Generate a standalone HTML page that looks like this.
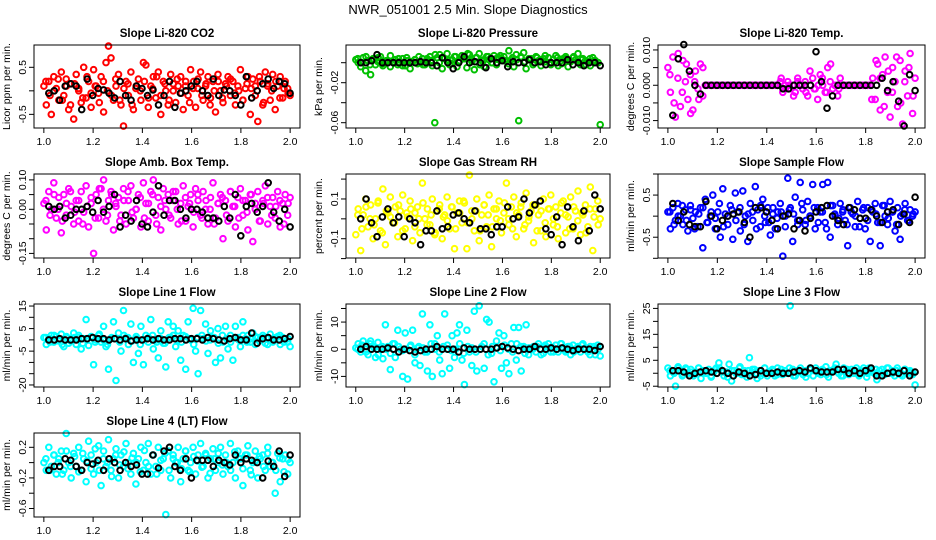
<!DOCTYPE html>
<html><head><meta charset="utf-8"><style>
html,body{margin:0;padding:0;background:#fff}
svg{display:block;font-family:"Liberation Sans",Arial,sans-serif}
</style></head><body>
<svg id="chart" width="936" height="540" viewBox="0 0 936 540" xmlns="http://www.w3.org/2000/svg">
<text x="468" y="14" text-anchor="middle" font-size="13">NWR_051001  2.5 Min. Slope Diagnostics</text>
</svg>
<script>
const xTicks=[1.0,1.2,1.4,1.6,1.8,2.0];
const xTickLabels=["1.0","1.2","1.4","1.6","1.8","2.0"];
const titles=["Slope Li-820 CO2","Slope Li-820 Pressure","Slope Li-820 Temp.","Slope Amb. Box Temp.","Slope Gas Stream RH","Slope Sample Flow","Slope Line 1 Flow","Slope Line 2 Flow","Slope Line 3 Flow","Slope Line 4 (LT) Flow"];
const yLabels=["Licor ppm per min.","kPa per min.","degrees C per min.","degrees C per min.","percent per min.","ml/min per min.","ml/min per min.","ml/min per min.","ml/min per min.","ml/min per min."];
const colors=["#ff0000","#00c000","#ff00ff","#ff00ff","#ffff00","#0000ff","#00ffff","#00ffff","#00ffff","#00ffff"];
const yDomains=[[-0.79,0.974],[-0.0653,0.0177],[-0.0121,0.0114],[-0.1656,0.12],[-0.197,0.2256],[-0.993,1.0],[-20.9,15.9],[-13.9,16.65],[-5.3,26.7],[-0.711,0.387]];
const yTicks=[[-0.5,0,0.5],[0,-0.02,-0.04,-0.06],[-0.01,-0.005,0,0.005,0.01],[-0.15,-0.1,-0.05,0,0.05,0.1],[-0.2,-0.1,0,0.1,0.2],[-1,-0.5,0,0.5,1],[-20,-15,-10,-5,0,5,10,15],[-10,-5,0,5,10,15],[-5,0,5,10,15,20,25],[-0.6,-0.4,-0.2,0,0.2]];
const yTickLabels=[{"-0.5":"-0.5","0.5":"0.5"},{"-0.02":"-0.02","-0.06":"-0.06"},{"-0.01":"-0.010","0":"0.000","0.01":"0.010"},{"-0.15":"-0.15","0":"0.00","0.1":"0.10"},{"-0.1":"-0.1","0.1":"0.1"},{"-0.5":"-0.5","0.5":"0.5"},{"-20":"-20","-5":"-5","5":"5","15":"15"},{"-10":"-10","0":"0","10":"10"},{"-5":"-5","5":"5","15":"15","25":"25"},{"-0.6":"-0.6","-0.2":"-0.2","0.2":"0.2"}];

const co2=[0.1,-0.3,0.2,-0.5,0.3,0.05,-0.2,0.4,-0.1,0.25,-0.4,0.15,-0.6,0.35,0.0,-0.25,0.5,-0.15,0.2,-0.35,0.45,0.1,-0.05,0.3,-0.45,0.6,0.95,0.7,-0.2,0.1,0.35,-0.3,-0.75,0.2,-0.1,0.4,-0.4,0.05,0.25,-0.2,0.6,0.55,-0.35,0.1,0.3,-0.15,0.4,-0.5,0.2,0.0,-0.3,0.35,0.15,-0.25,0.1,0.3,-0.4,0.2,-0.1,0.45,0.05,-0.35,0.25,0.4,-0.2,0.1,0.3,-0.15,0.2,-0.45,0.35,0.0,-0.25,0.15,0.3,-0.1,0.2,-0.3,0.1,0.45,-0.2,0.05,0.3,-0.5,0.25,0.1,-0.65,0.2,-0.3,0.4,0.15,-0.2,0.35,-0.4,0.1,0.3,-0.15,0.2,0.05,-0.1];
const co2B=[0.2,-0.1,0.0,0.25,-0.2,0.1,-0.3,0.15,0.05,-0.15,0.3,-0.05,0.1,-0.25,0.2,0.0,-0.1,0.25,-0.2,0.05,0.15,-0.3,0.1,0.0,0.2,-0.15,0.05,0.3,-0.1,0.15,-0.2,0.0,0.25,-0.05,0.1,-0.25,0.2,0.05,-0.1,0.15,-0.3,0.0,0.2,-0.15,0.1,0.25,-0.05,0.0,-0.2,0.15,0.05,-0.1,0.3,-0.25,0.1,0.0,0.2,-0.15,0.05,-0.05];
const co2Ref=[-0.05,0.0,-0.2,0.1,0.15,0.1,-0.4,0.25,-0.1,0.05,0.02,-0.05,-0.15,0.2,-0.1,-0.2,0.1,0.05,-0.1,0.02,-0.3,-0.1,0.2,-0.35,-0.05,0.0,0.1,0.2,0.0,-0.1,0.25,-0.1,0.02,0.0,-0.1,-0.3,0.3,-0.15,0.0,0.15,0.25,0.05,0.2,0.15,-0.05];
const pres=[0.003,0.0,-0.004,0.005,-0.008,0.002,-0.012,0.004,-0.002,0.001,0.006,-0.003,0.0,0.002,-0.004,0.001,0.003,-0.002,0.0,0.004,-0.003,0.002,-0.006,0.001,0.003,-0.001,0.0,0.004,-0.002,0.002,0.006,-0.003,-0.06,0.005,0.008,-0.006,0.004,0.009,-0.002,0.003,0.006,-0.004,0.002,0.007,0.004,-0.005,0.008,0.003,-0.007,0.005,0.009,0.002,-0.004,0.006,0.003,0.0,0.007,-0.002,0.005,0.004,0.006,0.002,0.012,0.003,-0.004,0.008,-0.058,0.005,0.01,-0.006,0.003,0.004,0.0,0.006,0.002,-0.003,0.004,0.001,0.005,-0.002,0.003,0.007,-0.003,0.002,0.004,0.006,-0.004,0.001,0.005,0.003,0.009,-0.002,0.004,0.002,0.001,-0.003,0.005,0.002,0.0,-0.062];
const presB=[0.004,0.0,0.006,-0.002,0.003,0.005,-0.001,0.002,0.007,0.0,0.004,-0.003,0.005,0.001,0.003,0.006,-0.002,0.004,0.002,0.008,0.0,0.005,0.003,-0.001,0.006,0.002,0.004,0.009,0.001,0.005,-0.002,0.003,0.006,0.0,0.004,0.007,0.002,-0.001,0.005,0.003,0.006,0.001,0.004,-0.002,0.005,0.002,0.007,0.0,0.003,0.005,-0.001,0.004,0.002,0.006,0.001,0.003,-0.002,0.004,0.002,0.0];
const presRef=[0.0,0.0,0.002,0.008,0.0,0.0,0.0,0.0,0.0,0.0,0.0,0.001,0.0,0.0,-0.003,0.005,0.0,-0.006,0.0,0.006,0.0,0.001,0.0,-0.005,0.004,0.0,0.002,-0.004,0.001,0.0,0.0,0.003,0.0,0.001,-0.002,0.0,0.0,0.0,0.003,-0.002,0.0,-0.003,0.0,0.0,-0.003];
const temp=[0.005,-0.002,0.008,-0.009,0.002,-0.006,0.007,0.001,-0.004,0.003,-0.007,0.004,-0.001,0.006,-0.003,0,0,0,0,0,0,0,0,0,0,0,0,0,0,0,0,0,0,0,0,0,0,0,0,0,0,0,0,0,0,0.001,-0.002,0.0,0.001,-0.001,0.0,-0.002,0.002,0.0,-0.001,0.001,-0.003,0.0,0.002,-0.001,-0.004,0.003,0.0,-0.002,0.005,0.001,-0.001,0.0,-0.003,0.002,0.0,0,0,0,0,0,0,0,0,0,0,0,0.002,-0.004,0.006,-0.007,0.003,0.008,-0.002,-0.009,0.005,0.001,-0.006,0.007,-0.011,0.004,-0.003,0.009,-0.008,0.002];
const tempB=[0.003,-0.005,0.009,-0.002,0.006,-0.008,0.001,-0.004,0.005,0,0,0,0,0,0,0,0,0,0,0,0,0,0,0,0,0,0,0.002,-0.001,0.0,-0.003,0.001,0.0,-0.002,0.004,-0.001,0.0,0.002,-0.002,0.006,0.0,-0.001,0,0,0,0,0,0,0,-0.004,0.007,0.002,-0.006,0.004,-0.002,0.008,-0.005,0.001,0.005,-0.003];
const tempRef=[-0.0085,0.0075,0.0115,0.004,0.0,-0.0025,0,0,0,0,0,0,0,0,0,0,0,0,0,0,-0.001,-0.001,0,0,0,0,0.0095,0.001,-0.0065,-0.003,0,0,0,0,0,0,0,0,0.002,-0.0015,0.001,-0.0045,-0.0115,0.003,-0.0015];
const amb=[0.02,-0.07,0.06,0.0,0.09,-0.03,0.04,-0.08,0.05,-0.02,0.07,0.01,-0.05,0.03,-0.04,0.06,-0.01,0.08,-0.06,0.02,-0.15,0.05,-0.03,0.07,0.1,-0.04,0.03,0.06,-0.07,0.01,0.04,-0.02,0.07,-0.05,0.03,0.08,-0.03,0.0,0.05,-0.06,0.09,0.02,-0.04,0.06,0.1,-0.02,0.04,-0.07,0.07,0.0,0.05,-0.03,0.03,0.06,-0.05,0.02,0.08,-0.04,0.01,0.05,-0.06,0.07,0.03,-0.02,0.06,0.0,-0.05,0.04,0.09,-0.03,0.02,0.05,-0.1,0.03,-0.04,0.06,0.01,-0.06,0.04,0.07,-0.02,0.03,-0.07,0.05,-0.11,0.02,0.06,-0.04,0.03,0.08,-0.05,0.01,0.04,-0.03,0.06,-0.06,0.02,0.05,-0.02,0.04];
const ambB=[0.03,-0.02,0.05,0.0,-0.04,0.02,0.06,-0.01,0.03,-0.05,0.01,0.04,-0.03,0.07,0.0,-0.02,0.05,0.02,-0.04,0.03,0.06,-0.01,0.0,0.04,-0.03,0.02,0.05,-0.05,0.01,0.03,-0.02,0.06,0.0,-0.04,0.04,0.02,-0.01,0.05,-0.03,0.03,0.0,-0.05,0.02,0.04,-0.02,0.06,0.01,-0.03,0.03,-0.01,0.05,0.0,-0.04,0.02,0.04,-0.02,0.01,0.03,-0.05,0.02];
const ambRef=[0.01,0.0,0.01,-0.03,-0.02,0.0,0.0,0.01,-0.01,0.03,-0.01,0.01,0.05,-0.06,-0.02,-0.04,0.03,-0.05,-0.06,-0.01,0.08,-0.02,0.03,0.03,0.0,-0.03,0.0,0.0,-0.01,-0.03,-0.03,-0.04,0.01,-0.03,0.05,-0.09,0.01,0.02,-0.01,0.01,0.09,-0.01,-0.04,0.0,-0.06];
const rh=[-0.08,0.05,-0.16,0.02,0.1,-0.04,0.07,-0.1,0.0,0.08,-0.06,0.15,-0.13,0.03,0.11,-0.02,0.06,-0.09,0.04,0.12,-0.05,0.01,0.09,-0.11,0.03,0.06,-0.07,0.18,0.0,0.05,-0.03,0.1,-0.08,0.04,0.07,-0.1,0.02,0.11,-0.05,0.06,-0.15,0.03,0.09,-0.02,0.08,-0.15,0.22,0.04,-0.06,0.1,-0.11,0.02,0.07,-0.04,0.12,-0.14,0.05,0.0,0.09,-0.07,0.03,0.18,-0.03,0.06,0.11,-0.09,0.02,0.08,-0.05,0.13,-0.01,0.04,-0.12,0.07,0.02,-0.06,0.1,-0.09,0.05,0.12,-0.03,0.06,-0.1,0.03,0.09,-0.07,0.01,0.11,-0.05,0.04,0.14,-0.08,0.02,0.07,-0.04,0.16,-0.16,0.05,0.09,0.0];
const rhB=[0.02,-0.05,0.06,0.0,-0.03,0.09,-0.07,0.04,0.01,-0.02,0.07,-0.06,0.03,0.05,-0.04,0.0,0.08,-0.03,0.02,-0.07,0.05,0.01,-0.01,0.06,-0.05,0.03,0.09,-0.02,0.0,0.04,-0.06,0.07,0.02,-0.04,0.05,-0.01,0.08,0.0,-0.05,0.03,0.06,-0.03,0.01,0.07,-0.06,0.04,-0.02,0.05,0.0,-0.04,0.08,0.02,-0.05,0.06,-0.01,0.03,-0.07,0.05,0.01,-0.03];
const rhRef=[0.0,0.1,-0.02,-0.09,0.01,0.05,-0.02,0.01,-0.09,0.0,-0.02,-0.13,-0.06,-0.06,0.04,-0.05,-0.04,0.02,0.03,0.0,-0.02,0.04,-0.05,-0.05,-0.08,-0.04,-0.04,0.06,0.0,0.01,0.1,0.03,0.07,0.09,-0.05,-0.08,0.01,-0.13,0.06,-0.04,-0.11,0.04,-0.06,0.12,0.05];
const samp=[0.1,-0.3,0.2,-0.1,0.3,0.0,-0.2,0.15,-0.35,0.25,-0.05,0.1,-0.25,0.2,-0.75,0.4,-0.15,0.0,0.5,-0.3,0.1,-0.5,0.65,0.05,-0.2,0.25,-0.55,0.55,0.1,-0.35,0.6,0.0,-0.6,0.3,-0.1,0.7,0.15,-0.25,0.4,-0.15,0.2,-0.45,0.05,-0.3,0.1,0.3,-0.95,0.0,0.9,0.2,-0.6,0.45,-0.1,0.8,0.15,-0.2,0.35,0.0,0.75,-0.3,0.2,0.1,0.75,-0.15,0.8,-0.5,0.25,0.0,-0.2,0.3,0.1,-0.1,-0.7,0.2,0.05,-0.25,0.35,-0.05,0.15,-0.3,0.2,-0.6,0.1,0.3,-0.15,-0.7,0.25,0.0,-0.2,0.35,0.1,-0.35,0.2,-0.55,0.05,0.3,-0.1,0.15,0.0,0.1];
const sampB=[0.1,-0.2,0.0,0.25,-0.1,0.15,-0.3,0.05,0.2,-0.15,0.1,-0.05,0.3,-0.25,0.0,0.15,-0.1,0.2,-0.2,0.05,0.1,-0.3,0.25,0.0,-0.15,0.2,-0.05,0.1,-0.25,0.15,0.05,-0.2,0.3,-0.1,0.0,0.2,-0.15,0.1,-0.3,0.25,0.05,-0.05,0.15,-0.2,0.1,0.0,-0.25,0.2,-0.1,0.15,0.05,-0.15,0.25,-0.05,0.1,-0.2,0.0,0.15,-0.1,0.05];
const sampRef=[0.3,-0.1,0.1,-0.2,-0.25,-0.25,0.35,0.0,-0.3,-0.1,0.0,0.05,0.1,-0.15,-0.5,0.2,0.2,0.1,-0.1,-0.3,0.0,0.05,-0.3,-0.1,-0.35,-0.05,0.1,0.2,0.25,0.0,-0.1,-0.2,0.2,0.15,-0.05,-0.05,0.15,0.0,-0.15,0.1,0.15,-0.2,0.05,-0.15,0.45];
const line1=[1,-2,0.5,2,-1,1.5,-0.5,2.5,-3,1,-1.5,0.5,3,-2,1,-4,0.5,9,-2.5,1.5,-11,0,2,-1,6,-3,-13,0.5,8,-18,3,-5,13,1,-2,7,-10,0.5,-6,6,-11,2,-1,9,-4,0,-8,4,-1.5,-12,8,1,6,-3,4,-9,2,-13,8,0,14,-5,-15,13,0.5,7,-6,4,1,-10,5,-8,-1,6,-4,2,-9,6,1,-3,8,0.5,2,-1,3,-2,1,0.5,2,-1.5,1,2.5,-1,0.5,1.5,-2,1,0.5,-1,-3];
const line1B=[1,-1,2,0,-2,1.5,-0.5,1,2,-1.5,0.5,1,-1,2.5,0,-2,1,0.5,-1,2,1,-0.5,1.5,-2,0,1,2,-1,0.5,-1.5,1,2,0,-1,1.5,0.5,-2,1,2,-0.5,0,1,-1.5,2,0.5,-1,1,0,2,-1,0.5,1.5,-0.5,1,-2,0,1,2,-1,0.5];
const line1Ref=[0,0,0.5,0,0,0,0.5,0.5,1,0.5,0.5,0,0.5,0,0.5,-0.5,0,0,0.5,0,0.5,0,0,0.5,0.5,0,0.5,0.5,0,1,0.5,0,-0.5,0.5,1,0,0,3,-1.5,0.5,1,0,0,0.5,1.5];
const line2=[0.5,2,-1,3,0,-2,3,1,-3,2.5,0.5,-3.5,9,1,-7.5,2,-3,7,0,-10,6,-11,1,7,-5,0.5,-6,13,-1,-8,9,-10,2,5,-4,-9,13,0,-7,5,-3,6,9,-4,-13,7,-1,-6,14,-8,16,1,-7,11,10,-1.5,-12,3,6,-7,5,-5,-9,2,8,-4,8,-8,1,9,-2,0.5,1,-1,2,0,-1.5,1,2,-1,0.5,1.5,-1,2,0,-1,1,-2,1.5,0,1,-1,2,0.5,-1,1,0,-2,1.5,-2.5];
const line2B=[0,1.5,-1,2,0.5,-2,1,0,-1.5,2,1,-0.5,0,1.5,-2,1,0.5,-1,2,0,-1,1,1.5,-0.5,0,2,-1.5,1,0.5,-1,0,2,-2,1,0.5,-0.5,1.5,0,-1,2,1,-1.5,0.5,0,1,-2,1.5,0.5,-1,0,2,-0.5,1,-1,0.5,1.5,0,-2,1,0];
const line2Ref=[0,1,0,0,0,0.5,0,-1,0,-0.5,-1,-0.5,0,0,1,0,0,0,-1,0.5,0,0,0,0,0,0.5,1,0.5,0,-0.5,0,0,1,0,0,0.5,0,0.5,0,-0.5,0,0,0,-0.5,1];
const line3=[2,-1,0.5,-5,2.5,1,-0.5,2,0,1.5,-1,0.5,2,-2,1,0,1.5,-1.5,0.5,2,4,1,-1,0.5,3.5,-3,1,0,2,-0.5,1,-1.5,6,0.5,1.5,-2,1,0,2,-1,0.5,1.5,-1,2,0.5,-0.5,1,0,26,1.5,-1,0.5,2,-0.5,1,0,1.5,-1,2,0.5,-0.5,1,2.5,-1.5,0.5,1,3.5,0,-1,2,1,-0.5,1.5,0,2,-1,0.5,1,-1.5,2,0.5,0,-2.5,1,1.5,-0.5,2,0,1,-1,2,0.5,-1,1.5,0,1,-0.5,-4.5];
const line3B=[1,0,2,-1,1.5,0.5,-0.5,2,1,0,-1,1.5,2,0.5,-1.5,1,0,2.5,-0.5,1,1.5,0,-1,2,0.5,1,-0.5,1.5,0,2,-1,1,0.5,-1.5,2,1,0,1.5,-0.5,1,2,0,-1,1.5,0.5,1,-0.5,2,0,1,1.5,-1,0.5,2,0,1,-0.5,1.5,0.5,0];
const line3Ref=[1,1,0.5,-1,0,0.5,1,0.5,0,1,0,-1,0.5,0,-1,-0.5,1,0,0,0.5,0,0,0.5,1,0.5,2,1,0.5,0.5,0.5,1.5,1.5,0,1,0,1,2,-1,-1,0,0.5,0,1,-1,0.5];
const line4=[0.0,-0.1,0.2,-0.05,0.1,-0.15,0.05,0.15,-0.1,0.38,0.0,-0.2,0.12,-0.05,0.2,-0.1,0.05,-0.25,0.28,0.1,-0.15,0.0,0.22,-0.3,0.15,-0.05,0.3,-0.1,0.05,0.18,-0.2,0.1,-0.05,0.25,0.0,-0.15,0.12,-0.28,0.05,0.2,-0.1,0.0,0.25,-0.15,0.1,-0.05,0.2,-0.1,0.05,-0.68,0.15,-0.2,0.1,0.0,0.2,-0.25,0.05,0.15,-0.1,0.0,0.2,-0.15,0.1,0.25,-0.05,0.12,-0.2,0.05,0.18,-0.1,0.0,0.2,-0.15,0.1,-0.05,0.25,0.0,-0.2,0.15,0.05,-0.3,0.1,0.22,-0.1,0.0,0.15,-0.2,0.05,0.1,-0.1,0.2,-0.05,0.0,-0.4,0.12,-0.25,0.05,0.1,-0.15,0.0];
const line4B=[0.05,-0.1,0.1,0.0,-0.15,0.15,-0.05,0.08,-0.12,0.12,0.02,-0.08,0.18,-0.1,0.05,0.0,-0.18,0.1,-0.03,0.14,-0.08,0.06,0.0,-0.12,0.16,-0.05,0.1,-0.15,0.03,0.12,-0.1,0.05,0.0,-0.08,0.15,-0.12,0.08,0.02,-0.06,0.1,-0.14,0.05,0.12,-0.03,0.0,-0.1,0.14,0.06,-0.08,0.1,-0.16,0.02,0.08,-0.05,0.12,0.0,-0.1,0.06,-0.12,0.04];
const line4Ref=[-0.1,-0.05,-0.05,0.05,0.03,-0.05,-0.1,0.0,-0.02,0.03,-0.1,0.05,0.0,-0.1,0.0,-0.05,-0.03,-0.15,-0.15,0.1,-0.07,0.15,0.2,-0.05,-0.1,0.05,-0.2,0.03,0.03,0.03,-0.05,0.03,0.0,-0.03,0.1,0.0,0.05,0.03,0.0,-0.2,0.02,-0.05,0.15,-0.18,0.1];
const series=[co2,pres,temp,amb,rh,samp,line1,line2,line3,line4];
const seriesB=[co2B,presB,tempB,ambB,rhB,sampB,line1B,line2B,line3B,line4B];
const refSeries=[co2Ref,presRef,tempRef,ambRef,rhRef,sampRef,line1Ref,line2Ref,line3Ref,line4Ref];

const NS="http://www.w3.org/2000/svg";
const svg=document.getElementById("chart");
const colBox=[[34,300],[346,610],[658,925]];
const rowBox=[[45,128],[174,258],[304,387],[433,517]];
function mk(tag,attrs,parent){const e=document.createElementNS(NS,tag);for(const k in attrs)e.setAttribute(k,attrs[k]);(parent||svg).appendChild(e);return e;}

series.forEach((vals,p)=>{
  const c=p%3,r=Math.floor(p/3);
  const L=colBox[c][0],R=colBox[c][1],T=rowBox[r][0],B=rowBox[r][1];
  const xmin=0.96,xmax=2.04;
  const [ymin,ymax]=yDomains[p];
  const X=v=>L+(v-xmin)/(xmax-xmin)*(R-L);
  const Y=v=>B-(v-ymin)/(ymax-ymin)*(B-T);
  const g=mk("g",{});
  
  
  const t=mk("text",{x:(L+R)/2,y:T-8,"text-anchor":"middle","font-size":"11.5","font-weight":"bold"},g);
  t.textContent=titles[p];
  
  
  const yl=mk("text",{x:0,y:0,"text-anchor":"middle","font-size":"10.5",transform:`translate(${L-24},${(T+B)/2}) rotate(-90)`},g);
  yl.textContent=yLabels[p];
  
  
  const pts=mk("g",{fill:"none",stroke:colors[p],"stroke-width":"2"},g);
  
  
  const vb=seriesB[p];
  vb.forEach((v,i)=>{
    const xv=1+(i+0.5)/vb.length;
    const ci=mk("circle",{cx:X(xv).toFixed(1),cy:Y(v).toFixed(1),r:"2.8"},pts);
    
    
  });
  vals.forEach((v,i)=>{
    const xv=1+i/(vals.length-1);
    const ci=mk("circle",{cx:X(xv).toFixed(1),cy:Y(v).toFixed(1),r:"2.8"},pts);
    
    
  });
  const ref=refSeries[p];
  const rp=mk("g",{fill:"none",stroke:"#000","stroke-width":"2"},g);
  
  
  ref.forEach((v,i)=>{
    const xv=1.02+i*0.98/(ref.length-1);
    const ci=mk("circle",{cx:X(xv).toFixed(1),cy:Y(v).toFixed(1),r:"2.8"},rp);
    
    
  });
  const box=mk("rect",{x:L,y:T,width:R-L,height:B-T,fill:"none",stroke:"#000","stroke-width":"1"},g);
  
  
  xTicks.forEach((v,i)=>{
    const ln=mk("line",{x1:X(v),x2:X(v),y1:B,y2:B+5,stroke:"#000"},g);
    
    
    const tx=mk("text",{x:X(v),y:B+17,"text-anchor":"middle","font-size":"10.5"},g);
    tx.textContent=xTickLabels[i];
    
    
  });
  yTicks[p].forEach(v=>{
    const ln=mk("line",{x1:L-5,x2:L,y1:Y(v),y2:Y(v),stroke:"#000"},g);
    
    
    const lab=yTickLabels[p][String(v)];
    if(lab!==undefined){
      const tx=mk("text",{x:0,y:0,"text-anchor":"middle","font-size":"10.5",transform:`translate(${L-8},${Y(v)}) rotate(-90)`},g);
      tx.textContent=lab;
      
      
    }
  });
});
</script>
</body></html>
